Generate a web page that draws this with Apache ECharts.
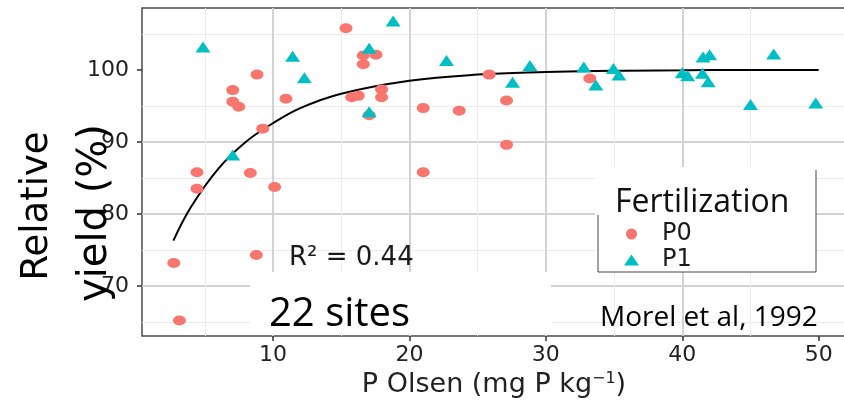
<!DOCTYPE html>
<html>
<head>
<meta charset="utf-8">
<script src="https://cdn.jsdelivr.net/npm/echarts@6/dist/echarts.min.js"></script>
<style>
  html, body { margin: 0; padding: 0; background: #fff; }
  #main { width: 844px; height: 400px; }
</style>
</head>
<body>
<div id="main"></div>
<script>
var chartDom = document.getElementById('main');
var myChart = echarts.init(chartDom);
var option;

// P0 plots (no fertilization)
const p0X = [2.73, 3.14, 4.43, 4.43, 7.05, 7.05, 7.49, 8.34, 8.78, 8.83, 9.25, 10.12, 10.95,
  15.35, 15.77, 16.25, 16.62, 16.62, 17.05, 17.55, 17.96, 17.96, 21.01, 21.01, 23.65,
  25.85, 27.12, 27.12, 33.22];
const p0Y = [73.2, 65.2, 85.8, 83.5, 97.2, 95.6, 94.9, 85.7, 74.3, 99.35, 91.85, 83.75, 96.0,
  105.8, 96.2, 96.4, 102.0, 100.8, 93.7, 102.1, 97.3, 96.2, 94.7, 85.8, 94.35,
  99.35, 95.75, 89.6, 98.8];

// P1 plots (fertilized)
const p1X = [4.87, 7.05, 11.44, 12.3, 17.05, 17.05, 18.81, 22.72, 27.56, 28.83, 32.78, 33.66,
  34.95, 35.35, 40.0, 40.4, 41.48, 41.52, 41.9, 42.0, 45.0, 46.7, 49.78];
const p1Y = [103.2, 88.2, 101.9, 98.9, 103.0, 94.2, 106.8, 101.3, 98.3, 100.6, 100.4, 97.9,
  100.2, 99.3, 99.6, 99.2, 99.55, 101.8, 98.35, 102.1, 95.2, 102.2, 95.4];

// fitted response curve
const fitX = [2.7, 4, 6, 8, 10, 12, 15, 20, 25, 30, 35, 40, 45, 50];
const fitY = [76.3, 81, 86.3, 90, 92.6, 94.7, 96.7, 98.5, 99.35, 99.7, 99.9, 99.95, 100, 100];

const xTicks = [10, 20, 30, 40, 50];
const yTicks = [70, 80, 90, 100];

const zip = (xs, ys) => xs.map((x, i) => [x, ys[i]]);

const FONT = 'DejaVu Sans';
const MAJOR = '#d2d2d2';
const MINOR = '#ebebeb';
const NONE = 'rgba(0,0,0,0)';

option = {
  animation: false,
  backgroundColor: '#fff',
  grid: {
    left: 142, top: 8, right: -2, bottom: 64,
    outerBoundsMode: 'none', containLabel: false,
    show: true, backgroundColor: '#fff',
    borderColor: '#4a4a4a', borderWidth: 1.5
  },
  legend: {
    data: [{ name: 'P0', icon: 'circle' }, { name: 'P1', icon: 'triangle' }],
    orient: 'vertical',
    left: 619, top: 217,
    itemWidth: 15, itemHeight: 11, itemGap: 2,
    formatter: '{t|{name}}',
    textStyle: {
      rich: { t: { fontFamily: FONT, fontSize: 24, color: '#1a1a1a', padding: [0, 0, 0, 18], lineHeight: 22 } }
    },
    z: 20
  },
  xAxis: [
    {
      type: 'value', min: 0.4, max: 52, minInterval: 10, maxInterval: 10,
      axisLine: { show: false },
      axisTick: { show: true, length: 5, customValues: xTicks, lineStyle: { color: '#333', width: 1.5 } },
      axisLabel: {
        fontFamily: FONT, fontSize: 22, color: '#222', margin: 8, customValues: xTicks,
        formatter: v => (xTicks.indexOf(v) >= 0 ? String(v) : '')
      },
      splitLine: { show: true, showMaxLine: false, lineStyle: { color: MAJOR, width: 2 } },
      name: 'P Olsen (mg P kg{s|\u22121})',
      nameLocation: 'middle', nameGap: 32,
      nameTextStyle: {
        fontFamily: FONT, fontSize: 27, color: '#222',
        rich: { s: { fontFamily: FONT, fontSize: 16, color: '#222', verticalAlign: 'top', padding: [0, 0, 12, 0] } }
      }
    },
    {
      type: 'value', min: 0.4, max: 52, minInterval: 5, maxInterval: 5,
      axisLine: { show: false }, axisTick: { show: false }, axisLabel: { show: false },
      splitLine: { show: true, lineStyle: { color: [NONE, MINOR], width: 1 } }
    }
  ],
  yAxis: [
    {
      type: 'value', min: 63.06, max: 108.6, minInterval: 10, maxInterval: 10,
      axisLine: { show: false },
      axisTick: { show: true, length: 5, customValues: yTicks, lineStyle: { color: '#333', width: 1.5 } },
      axisLabel: {
        fontFamily: FONT, fontSize: 22, color: '#222', margin: 13, customValues: yTicks,
        formatter: v => (yTicks.indexOf(v) >= 0 ? String(v) : '')
      },
      splitLine: { show: true, showMaxLine: false, lineStyle: { color: MAJOR, width: 2 } }
    },
    {
      type: 'value', min: 63.06, max: 108.6, minInterval: 5, maxInterval: 5, position: 'left',
      axisLine: { show: false }, axisTick: { show: false }, axisLabel: { show: false },
      splitLine: { show: true, lineStyle: { color: [NONE, MINOR], width: 1 } }
    }
  ],
  graphic: [
    // legend box
    { type: 'rect', z: 5, shape: { x: 595, y: 167, width: 221, height: 105 }, style: { fill: '#fff' } },
    { type: 'polyline', z: 6, shape: { points: [[598, 215], [598, 272], [816, 272], [816, 170]] },
      style: { stroke: '#444', lineWidth: 1, fill: null } },
    { type: 'text', z: 7, x: 615, y: 203,
      style: { text: 'Fertilization', fontFamily: 'Open Sans', fontSize: 32, fill: '#111', verticalAlign: 'middle' } },
    // "22 sites" box
    { type: 'rect', z: 5, shape: { x: 250, y: 272, width: 301, height: 63 }, style: { fill: '#fff' } },
    { type: 'text', z: 7, x: 269, y: 315,
      style: { text: '22 sites', fontFamily: 'Open Sans', fontSize: 40, fill: '#000', verticalAlign: 'middle' } },
    { type: 'text', z: 7, x: 600, y: 318,
      style: { text: 'Morel et al, 1992', fontFamily: 'Open Sans', fontSize: 28, fill: '#000', verticalAlign: 'middle' } },
    { type: 'text', z: 7, x: 289, y: 258,
      style: { text: 'R\u00b2 = 0.44', fontFamily: FONT, fontSize: 26, fill: '#1a1a1a', verticalAlign: 'middle' } },
    // y axis title
    { type: 'text', z: 7, x: 37, y: 206, rotation: Math.PI / 2,
      style: { text: 'Relative', fontFamily: FONT, fontSize: 37, fill: '#000', align: 'center', verticalAlign: 'middle' } },
    { type: 'text', z: 7, x: 96, y: 213, rotation: Math.PI / 2,
      style: { text: 'yield (%)', fontFamily: FONT, fontSize: 40, fill: '#000', align: 'center', verticalAlign: 'middle' } }
  ],
  series: [
    {
      name: 'fit', type: 'line', data: zip(fitX, fitY),
      showSymbol: false, smooth: 0.4,
      lineStyle: { color: '#000', width: 2 }, z: 2, silent: true
    },
    {
      name: 'P0', type: 'scatter', data: zip(p0X, p0Y),
      symbol: 'circle', symbolSize: [13, 10],
      itemStyle: { color: '#F8766D', opacity: 1 }, z: 3
    },
    {
      name: 'P1', type: 'scatter', data: zip(p1X, p1Y),
      symbol: 'triangle', symbolSize: [15, 11],
      itemStyle: { color: '#00BFC4', opacity: 1 }, z: 3
    }
  ]
};

option && myChart.setOption(option);
</script>
</body>
</html>
